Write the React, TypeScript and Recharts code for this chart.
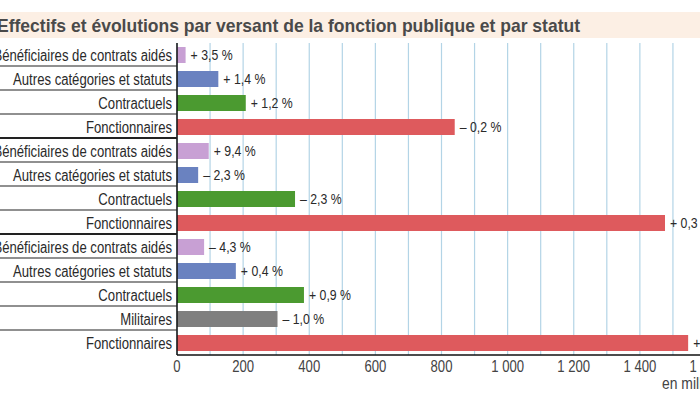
import React from "react";
import {
  BarChart,
  Bar,
  XAxis,
  YAxis,
  CartesianGrid,
  Cell,
  LabelList,
} from "recharts";

// ---- Data ----
const categories = [
  "Bénéficiaires de contrats aidés",
  "Autres catégories et statuts",
  "Contractuels",
  "Fonctionnaires",
  "Bénéficiaires de contrats aidés",
  "Autres catégories et statuts",
  "Contractuels",
  "Fonctionnaires",
  "Bénéficiaires de contrats aidés",
  "Autres catégories et statuts",
  "Contractuels",
  "Militaires",
  "Fonctionnaires",
];
const versants = ["FPH", "FPH", "FPH", "FPH", "FPT", "FPT", "FPT", "FPT", "FPE", "FPE", "FPE", "FPE", "FPE"];
const effectifs = [26, 125, 208, 840, 96, 64, 357, 1476, 82, 178, 384, 304, 1546];
const evolutions = [3.5, 1.4, 1.2, -0.2, 9.4, -2.3, -2.3, 0.3, -4.3, 0.4, 0.9, -1.0, 0.1];
const xTicks = [0, 100, 200, 300, 400, 500, 600, 700, 800, 900, 1000, 1100, 1200, 1300, 1400, 1500, 1600];
const title = "Effectifs et évolutions par versant de la fonction publique et par statut";
const unitLabel = "en milliers";

const statutColors: Record<string, string> = {
  "Bénéficiaires de contrats aidés": "#c8a0d4",
  "Autres catégories et statuts": "#6a82c0",
  "Contractuels": "#4b9a30",
  "Fonctionnaires": "#de5a5d",
  "Militaires": "#7f7f7f",
};

const fmtEvol = (v: number) =>
  (v < 0 ? "– " : "+ ") + Math.abs(v).toFixed(1).replace(".", ",") + " %";

const fmtThousands = (v: number) =>
  String(v).replace(/\B(?=(\d{3})+(?!\d))/g, " ");

const data = categories.map((c, i) => ({
  id: "r" + i,
  name: c,
  versant: versants[i],
  value: effectifs[i],
  label: fmtEvol(evolutions[i]),
}));

// ---- Layout ----
const FONT = "'Liberation Sans', Arial, sans-serif";
const NARROW = 0.82;
const CHART_W = 720;
const CHART_H = 394;
const MARGIN = { top: 43, right: 14, bottom: 9, left: 0 };
const XAXIS_H = 30;
const YAXIS_W = 177;
const PLOT_H = CHART_H - MARGIN.top - MARGIN.bottom - XAXIS_H;
const BAND = PLOT_H / data.length;

const CategoryTick = (props: any) => {
  const { x, y, payload } = props;
  const idx = data.findIndex((d) => d.id === payload.value);
  const row = data[idx];
  const next = data[idx + 1];
  const lineY = y + BAND / 2 - 1;
  return (
    <g>
      <text
        transform={`translate(${x},${y}) scale(${NARROW},1)`}
        x={0}
        y={0}
        dy="0.36em"
        textAnchor="end"
        fontFamily={FONT}
        fontSize={16}
        fill="#2a2a2a"
      >
        {row ? row.name : ""}
      </text>
      {next && (
        <line
          x1={0}
          x2={x + 5}
          y1={lineY}
          y2={lineY}
          stroke="#222"
          strokeWidth={next.versant !== row.versant ? 2 : 1.2}
        />
      )}
    </g>
  );
};

const ValueTick = (props: any) => {
  const { x, y, payload } = props;
  const v = payload.value as number;
  if (v % 200 !== 0) return null;
  return (
    <text
      transform={`translate(${x},${y}) scale(${NARROW},1)`}
      x={0}
      y={0}
      dy="0.75em"
      textAnchor="middle"
      fontFamily={FONT}
      fontSize={16}
      fill="#444"
    >
      {fmtThousands(v)}
    </text>
  );
};

const BarLabel = (props: any) => {
  const { x, y, width, height, value } = props;
  const tx = Number(x) + Number(width) + 5;
  const ty = Number(y) + Number(height) / 2;
  return (
    <text
      transform={`translate(${tx},${ty}) scale(${NARROW},1)`}
      x={0}
      y={0}
      dy="0.36em"
      textAnchor="start"
      fontFamily={FONT}
      fontSize={15}
      fill="#2a2a2a"
    >
      {value}
    </text>
  );
};

export default function App() {
  return (
    <div
      style={{
        position: "absolute",
        left: 0,
        top: 0,
        width: 700,
        height: 394,
        overflow: "hidden",
        background: "#fff",
      }}
    >
      <svg
        width={700}
        height={40}
        style={{ position: "absolute", left: 0, top: 0 }}
      >
        <rect x={0} y={12} width={700} height={26} fill="#fcefe4" />
        <text
          x={-3}
          y={32}
          textLength={583}
          lengthAdjust="spacingAndGlyphs"
          fontFamily={FONT}
          fontWeight="bold"
          fontSize={19}
          fill="#4a4a4a"
        >
          {title}
        </text>
      </svg>
      <div style={{ position: "absolute", left: 0, top: 0 }}>
        <BarChart
          width={CHART_W}
          height={CHART_H}
          data={data}
          layout="vertical"
          margin={MARGIN}
          barSize={16}
        >
          <CartesianGrid horizontal={false} stroke="#b3d4e6" strokeWidth={1.2} />
          <XAxis
            type="number"
            domain={[0, 1600]}
            ticks={xTicks}
            interval={0}
            height={XAXIS_H}
            tickLine={false}
            tickSize={0}
            tickMargin={5}
            axisLine={{ stroke: "#111", strokeWidth: 1.5 }}
            tick={<ValueTick />}
          />
          <YAxis
            type="category"
            dataKey="id"
            width={YAXIS_W}
            interval={0}
            tickLine={false}
            tickSize={5}
            tickMargin={0}
            axisLine={{ stroke: "#111", strokeWidth: 1.5 }}
            tick={<CategoryTick />}
          />
          <Bar dataKey="value" isAnimationActive={false}>
            {data.map((d) => (
              <Cell key={d.id} fill={statutColors[d.name]} />
            ))}
            <LabelList dataKey="label" content={<BarLabel />} />
          </Bar>
        </BarChart>
      </div>
      <svg
        width={700}
        height={394}
        style={{ position: "absolute", left: 0, top: 0, pointerEvents: "none" }}
      >
        <text
          transform={`translate(662,389) scale(${NARROW},1)`}
          x={0}
          y={0}
          fontFamily={FONT}
          fontSize={17}
          fill="#444"
        >
          {unitLabel}
        </text>
      </svg>
    </div>
  );
}
